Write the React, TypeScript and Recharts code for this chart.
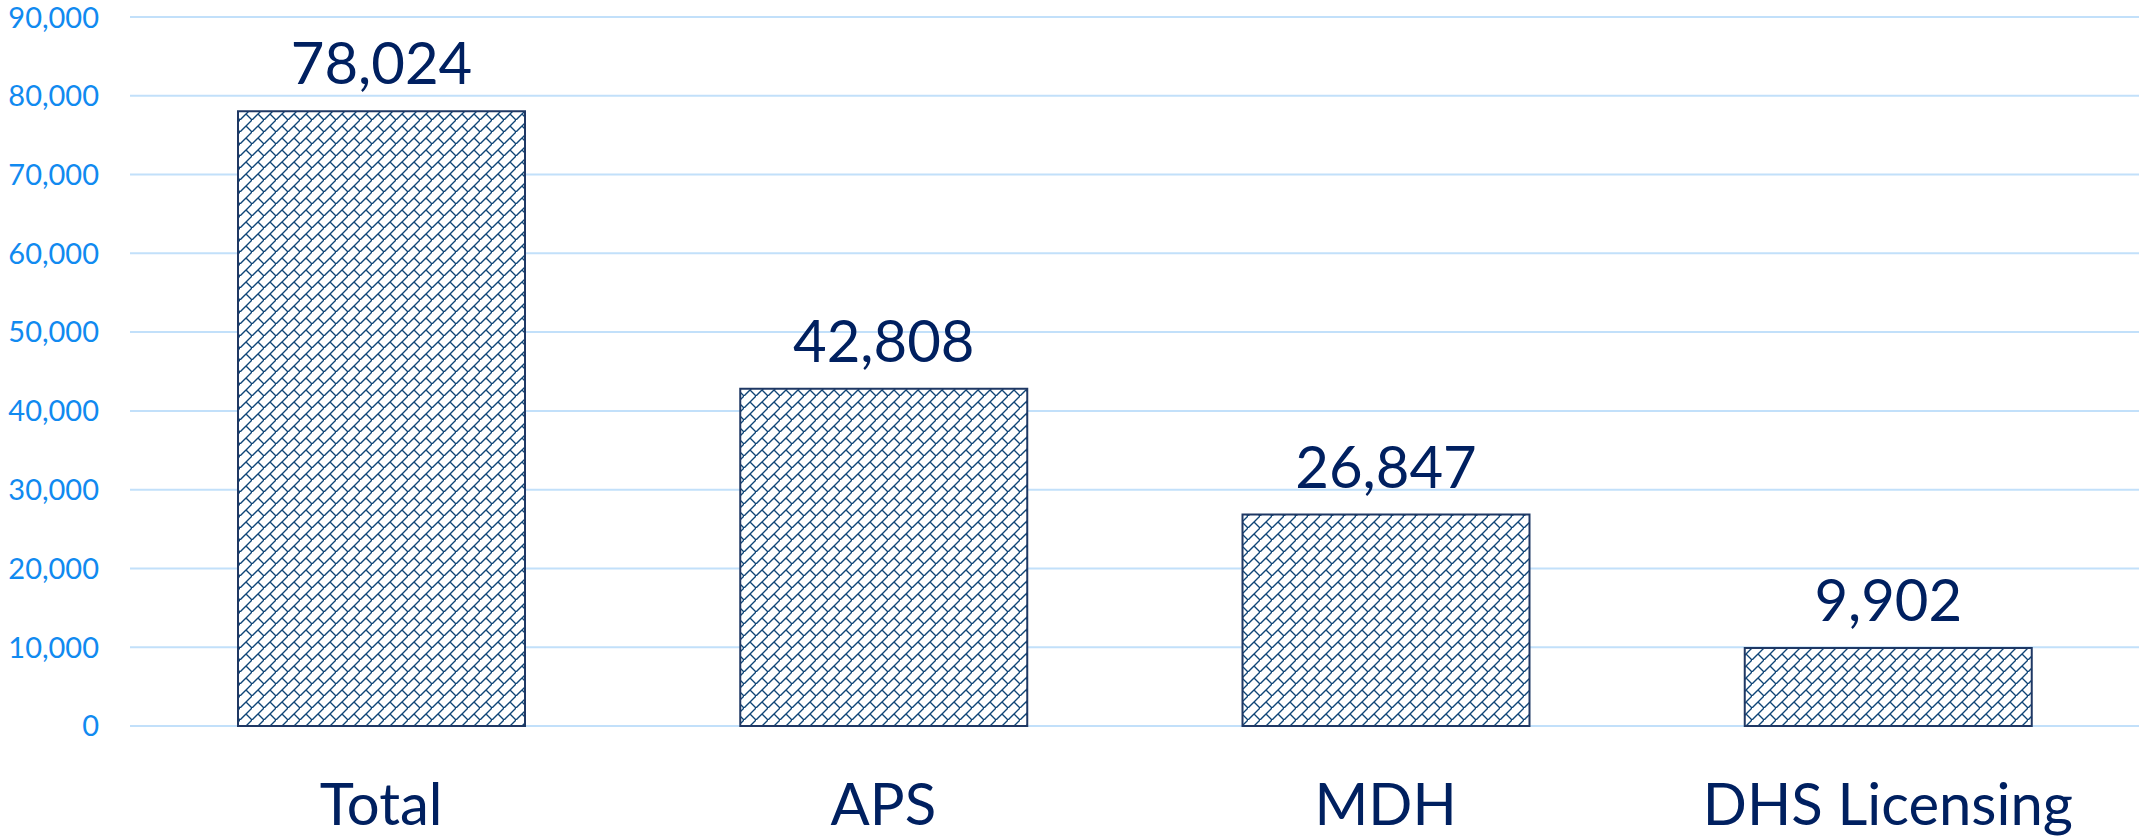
import { BarChart, Bar, XAxis, YAxis, CartesianGrid, LabelList } from 'recharts';

const CATEGORIES = ['Total', 'APS', 'MDH', 'DHS Licensing'];
const COUNTS = [78024, 42808, 26847, 9902];
const Y_TICKS = [0, 10000, 20000, 30000, 40000, 50000, 60000, 70000, 80000, 90000];

const NAVY = '#002060';
const TICK_BLUE = '#118af0';
const GRID = '#c2e0fa';
const FONT = 'Lato, "Noto Sans", sans-serif';

const fmt = (v: number) => v.toLocaleString('en-US');

export default function App() {
  const data = CATEGORIES.map((name, i) => ({ name, count: COUNTS[i] }));

  return (
    <div style={{ width: 2139, height: 840 }}>
      <style>{`body { margin: 0; }`}</style>
      <BarChart
        width={2139}
        height={840}
        data={data}
        margin={{ top: 17, right: 0, left: 0, bottom: 0 }}
      >
        <defs>
          <pattern id="diagBrick" width={12} height={12} patternUnits="userSpaceOnUse">
            <rect width={12} height={12} fill="#ffffff" />
            <path
              d="M-1,13 L13,-1 M6,6 L12,12"
              stroke="#0e4476"
              strokeWidth={1.4}
              fill="none"
            />
          </pattern>
        </defs>
        <CartesianGrid vertical={false} stroke={GRID} strokeWidth={2} />
        <XAxis
          dataKey="name"
          axisLine={false}
          tickLine={false}
          tickSize={0}
          tickMargin={58}
          height={114}
          interval={0}
          tick={{ fill: NAVY, fontSize: 58, fontFamily: FONT }}
        />
        <YAxis
          domain={[0, 90000]}
          ticks={Y_TICKS}
          axisLine={false}
          tickLine={false}
          tickSize={0}
          tickMargin={31}
          width={130}
          tickFormatter={fmt}
          tick={{ fill: TICK_BLUE, fontSize: 29, fontFamily: FONT }}
        />
        <Bar
          dataKey="count"
          fill="url(#diagBrick)"
          stroke="#1f3864"
          strokeWidth={2}
          barSize={287}
          isAnimationActive={false}
        >
          <LabelList
            dataKey="count"
            position="top"
            offset={27}
            formatter={(v: number) => fmt(v)}
            style={{ fill: NAVY, fontSize: 58, fontFamily: FONT }}
          />
        </Bar>
      </BarChart>
    </div>
  );
}
